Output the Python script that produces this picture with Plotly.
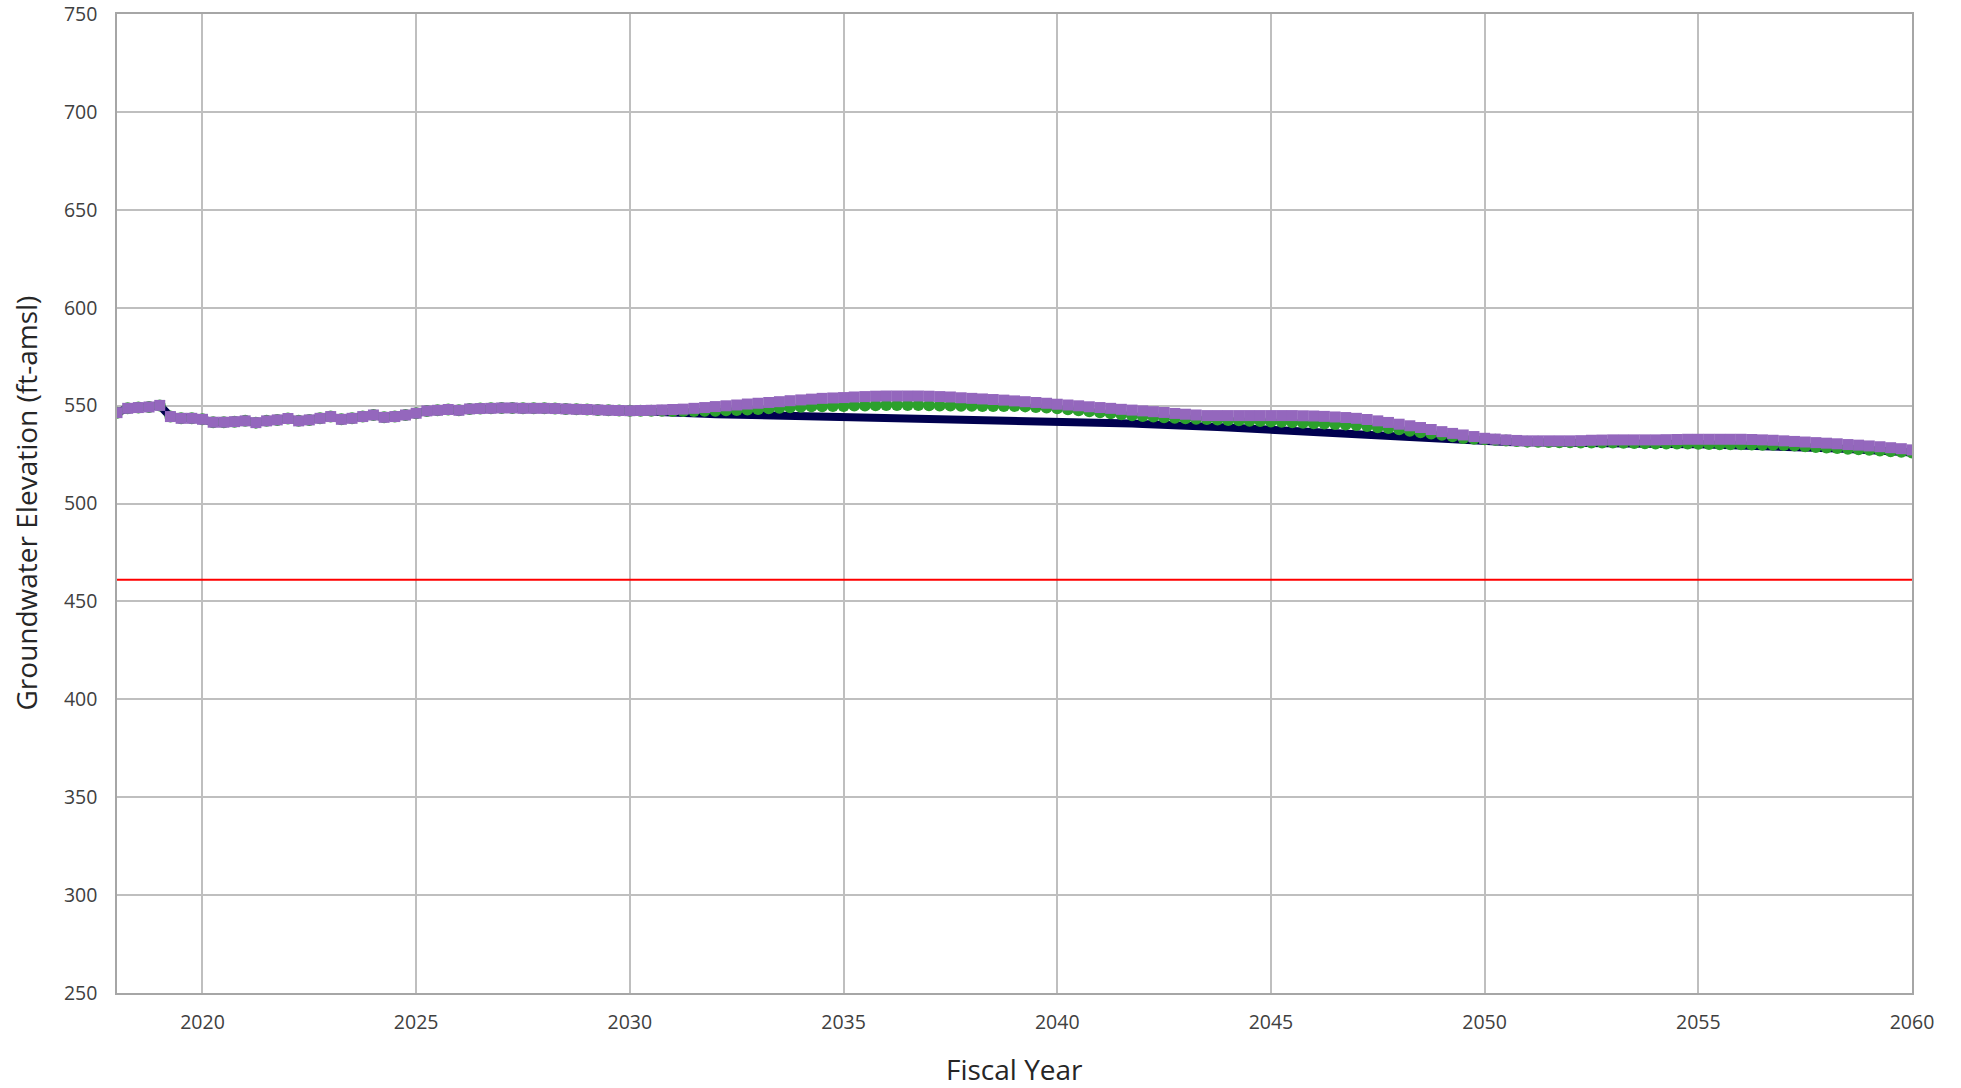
import plotly.graph_objects as go

# quarterly groundwater elevations (ft-amsl), FY2018.00 .. FY2060.00
start_year = 2018
end_year = 2060

# 2018.00 - 2029.75, all scenarios coincide here
shared_early = [
    546.4, 548.6, 549.0, 549.3,
    550.1, 544.4, 543.5, 543.5,
    543.0, 541.5, 541.5, 541.8,
    542.2, 541.3, 542.2, 542.7,
    543.4, 542.2, 542.7, 543.5,
    544.4, 543.0, 543.5, 544.4,
    545.2, 544.0, 544.4, 545.2,
    546.1, 547.3, 547.6, 548.0,
    547.6, 548.3, 548.5, 548.6,
    548.8, 548.8, 548.6, 548.6,
    548.6, 548.5, 548.3, 548.1,
    548.0, 547.8, 547.6, 547.5,
]

# 2030.00 - 2060.00
baseline_tail = [
    547.4, 547.2, 547.0, 546.7,
    546.4, 546.2, 546.0, 545.8,
    545.6, 545.5, 545.3, 545.2,
    545.0, 544.9, 544.8, 544.6,
    544.5, 544.4, 544.3, 544.1,
    544.0, 543.9, 543.8, 543.7,
    543.6, 543.5, 543.4, 543.3,
    543.2, 543.1, 543.0, 542.9,
    542.8, 542.7, 542.6, 542.4,
    542.3, 542.1, 541.9, 541.8,
    541.6, 541.5, 541.4, 541.3,
    541.1, 541.0, 540.9, 540.8,
    540.6, 540.5, 540.3, 540.1,
    539.9, 539.7, 539.4, 539.1,
    538.8, 538.5, 538.2, 537.8,
    537.4, 537.0, 536.6, 536.3,
    536.0, 535.7, 535.4, 535.1,
    534.8, 534.5, 534.2, 533.9,
    533.7, 533.4, 533.1, 532.8,
    532.5, 532.3, 532.0, 531.8,
    531.6, 531.5, 531.4, 531.3,
    531.3, 531.2, 531.2, 531.1,
    531.0, 531.0, 530.9, 530.9,
    530.8, 530.7, 530.7, 530.6,
    530.5, 530.5, 530.4, 530.3,
    530.2, 530.1, 530.0, 529.9,
    529.9, 529.8, 529.7, 529.7,
    529.6, 529.3, 529.0, 528.7,
    528.4, 528.1, 527.8, 527.5,
    527.2, 526.9, 526.6, 526.3,
    526.0,
]

green_tail = [
    547.4, 547.4, 547.4, 547.4,
    547.3, 547.3, 547.3, 547.4,
    547.4, 547.6, 547.8, 548.0,
    548.3, 548.6, 548.9, 549.2,
    549.4, 549.6, 549.7, 549.8,
    549.8, 550.0, 550.1, 550.2,
    550.3, 550.3, 550.3, 550.3,
    550.2, 550.1, 550.0, 549.9,
    549.9, 549.8, 549.8, 549.8,
    549.8, 549.6, 549.3, 549.0,
    548.6, 548.1, 547.6, 547.1,
    546.6, 546.1, 545.6, 545.1,
    544.7, 544.4, 544.0, 543.8,
    543.5, 543.3, 543.1, 542.9,
    542.7, 542.5, 542.3, 542.1,
    541.9, 541.7, 541.5, 541.2,
    541.0, 540.8, 540.6, 540.3,
    540.1, 539.6, 539.0, 538.5,
    537.9, 537.2, 536.4, 535.8,
    535.1, 534.3, 533.4, 533.1,
    532.8, 532.5, 532.2, 531.9,
    531.6, 531.5, 531.4, 531.3,
    531.3, 531.2, 531.2, 531.1,
    531.1, 531.0, 530.9, 530.8,
    530.7, 530.7, 530.6, 530.6,
    530.5, 530.4, 530.3, 530.2,
    530.2, 530.1, 530.0, 530.0,
    529.9, 529.6, 529.2, 528.9,
    528.6, 528.3, 528.0, 527.7,
    527.4, 527.1, 526.7, 526.4,
    526.0,
]

purple_tail = [
    547.4, 547.5, 547.6, 547.8,
    548.0, 548.2, 548.6, 549.0,
    549.5, 549.9, 550.3, 550.8,
    551.2, 551.6, 552.0, 552.5,
    552.9, 553.3, 553.7, 553.9,
    554.1, 554.4, 554.6, 554.8,
    554.9, 554.9, 554.9, 554.9,
    554.8, 554.6, 554.4, 554.0,
    553.7, 553.4, 553.1, 552.8,
    552.4, 552.0, 551.6, 551.2,
    550.7, 550.3, 549.9, 549.4,
    549.0, 548.6, 548.1, 547.7,
    547.3, 546.9, 546.5, 546.0,
    545.6, 545.2, 544.9, 544.9,
    544.9, 544.9, 544.9, 544.9,
    544.9, 544.9, 544.9, 544.8,
    544.7, 544.5, 544.2, 543.9,
    543.5, 542.9, 542.2, 541.4,
    540.5, 539.7, 538.8, 537.8,
    536.7, 535.8, 535.0, 534.2,
    533.3, 532.9, 532.5, 532.2,
    532.0, 532.0, 532.0, 532.0,
    532.0, 532.1, 532.3, 532.4,
    532.5, 532.5, 532.5, 532.5,
    532.5, 532.6, 532.7, 532.8,
    532.8, 532.8, 532.8, 532.8,
    532.8, 532.7, 532.5, 532.3,
    532.0, 531.7, 531.4, 531.1,
    530.8, 530.5, 530.1, 529.8,
    529.4, 529.0, 528.5, 528.0,
    527.4,
]

threshold = 461

baseline = shared_early + baseline_tail
green = shared_early + green_tail
purple = shared_early + purple_tail
fiscal_year = [start_year + q / 4 for q in range(len(baseline))]

font_family = "Open Sans, Noto Sans, sans-serif"
grid_color = "#bfbfbf"
title_font = dict(family=font_family, size=28, color="#262626")

fig = go.Figure()

fig.add_trace(go.Scatter(
    x=[start_year, end_year], y=[threshold, threshold],
    mode="lines", line=dict(color="#ff0000", width=2),
    showlegend=False, hoverinfo="skip"
))
fig.add_trace(go.Scatter(
    x=fiscal_year, y=baseline, mode="lines",
    line=dict(color="#00004f", width=8), showlegend=False
))
fig.add_trace(go.Scatter(
    x=fiscal_year, y=green, mode="markers",
    marker=dict(color="#2ca02c", size=12, symbol="circle"), showlegend=False
))
fig.add_trace(go.Scatter(
    x=fiscal_year, y=purple, mode="markers",
    marker=dict(color="#9467bd", size=11, symbol="square"), showlegend=False
))

fig.update_layout(
    width=1961, height=1088,
    margin=dict(l=117, r=49, t=14, b=95),
    plot_bgcolor="white", paper_bgcolor="white",
    font=dict(family=font_family, size=19.5, color="#404040"),
    annotations=[
        # axis titles placed by hand, the built-in ones get squeezed into the margin
        dict(text="Fiscal Year", xref="paper", yref="paper", x=0.5, y=0,
             yshift=-76, xanchor="center", yanchor="middle",
             showarrow=False, font=title_font),
        dict(text="Groundwater Elevation (ft-amsl)", xref="paper", yref="paper",
             x=0, y=0.5, xshift=-92, xanchor="center", yanchor="middle",
             textangle=-90, showarrow=False, font=title_font),
    ],
)

fig.update_xaxes(
    range=[start_year, end_year],
    tickvals=list(range(2020, 2061, 5)),
    showgrid=True, gridcolor=grid_color, gridwidth=1.5,
    showline=True, linecolor="#a6a6a6", linewidth=1.5, mirror=True,
    zeroline=False, ticks="", ticklabelstandoff=11, automargin=False,
    ticklabeloverflow="allow",
)
fig.update_yaxes(
    range=[250, 750],
    tickvals=list(range(250, 751, 50)),
    showgrid=True, gridcolor=grid_color, gridwidth=1.5,
    showline=True, linecolor="#a6a6a6", linewidth=1.5, mirror=True,
    zeroline=False, ticks="", ticklabelstandoff=14, automargin=False,
    ticklabeloverflow="allow",
)

# drop the default 8px body margin so the figure fills the window exactly
fig.write_html(
    "out.html",
    config={"displayModeBar": False},
    post_script="document.body.style.margin='0';",
)
